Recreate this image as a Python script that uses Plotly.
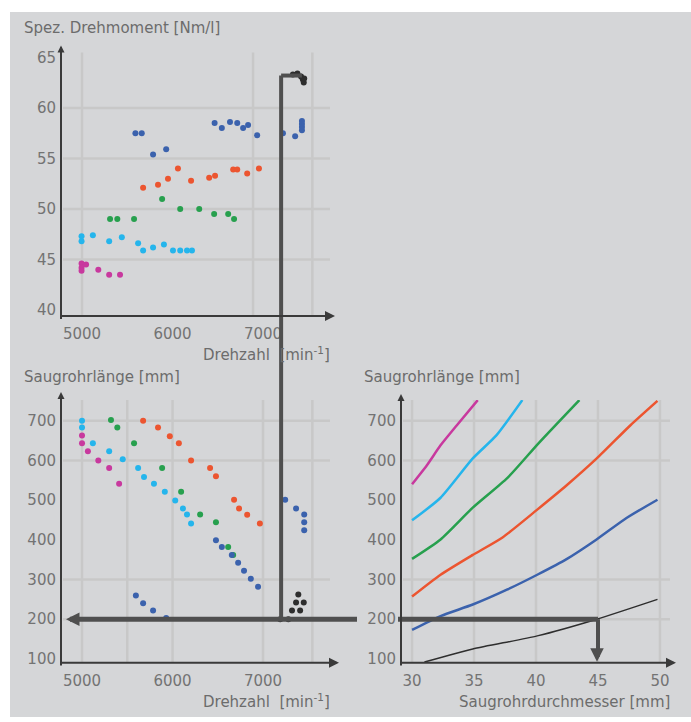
import plotly.graph_objects as go

W, H = 691, 722

# ---------------- data: top plot (spec. torque vs rpm) ----------------
blue_top_x = [5590, 5660, 5785, 5930, 6465, 6545, 6635, 6715, 6780, 6835, 6935, 7220, 7355, 7430, 7430, 7430, 7430]
blue_top_y = [57.5, 57.5, 55.4, 55.9, 58.5, 58.0, 58.6, 58.5, 58.0, 58.3, 57.3, 57.5, 57.2, 57.8, 58.1, 58.4, 58.7]
red_top_x = [5675, 5840, 5950, 6060, 6205, 6405, 6470, 6670, 6715, 6825, 6955]
red_top_y = [52.1, 52.4, 53.0, 54.0, 52.8, 53.1, 53.3, 53.9, 53.9, 53.5, 54.0]
green_top_x = [5310, 5390, 5575, 5885, 6085, 6295, 6460, 6615, 6680]
green_top_y = [49.0, 49.0, 49.0, 51.0, 50.0, 50.0, 49.5, 49.5, 49.0]
cyan_top_x = [4995, 4995, 5120, 5300, 5440, 5620, 5675, 5785, 5905, 6005, 6085, 6160, 6215]
cyan_top_y = [47.3, 46.8, 47.4, 46.8, 47.2, 46.6, 45.9, 46.2, 46.5, 45.9, 45.9, 45.9, 45.9]
magenta_top_x = [4995, 4995, 4995, 5045, 5180, 5300, 5420]
magenta_top_y = [44.6, 44.2, 43.9, 44.5, 44.0, 43.5, 43.5]
black_top_x = [7330, 7380, 7420, 7440, 7450, 7455]
black_top_y = [63.3, 63.4, 63.1, 62.8, 62.5, 62.9]

# ---------------- data: bottom-left (runner length vs rpm) ----------------
cyan_bot_x = [5000, 5000, 5120, 5300, 5450, 5620, 5685, 5795, 5915, 6030, 6115, 6160, 6205]
cyan_bot_y = [700, 683, 643, 623, 603, 581, 558, 541, 521, 499, 479, 464, 441]
magenta_bot_x = [5000, 5000, 5065, 5180, 5300, 5410]
magenta_bot_y = [663, 643, 623, 600, 581, 541]
green_bot_x = [5320, 5390, 5575, 5885, 6095, 6305, 6480, 6615, 6670]
green_bot_y = [702, 683, 643, 581, 521, 464, 444, 382, 362]
red_bot_x = [5675, 5840, 5970, 6070, 6205, 6415, 6480, 6680, 6735, 6825, 6965]
red_bot_y = [700, 683, 661, 643, 600, 581, 560, 501, 479, 463, 441]
blue_bot_x = [5595, 5675, 5785, 5930, 6480, 6545, 6655, 6725, 6790, 6865, 6945, 7245, 7365, 7455, 7455, 7455]
blue_bot_y = [260, 240, 222, 203, 399, 382, 362, 342, 322, 302, 282, 501, 479, 464, 444, 424]
black_bot_x = [7190, 7280, 7320, 7410, 7365, 7450, 7390]
black_bot_y = [200, 200, 222, 222, 242, 242, 262]

# ---------------- data: bottom-right (runner length vs diameter) ----------------
mag_line_x = [30.0, 31.2, 32.3, 33.6, 35.3]
mag_line_y = [540, 588, 638, 688, 752]
cyan_line_x = [30.0, 32.3, 34.9, 36.8, 38.9]
cyan_line_y = [449, 506, 605, 663, 752]
green_line_x = [30.0, 32.3, 34.9, 37.7, 40.2, 43.5]
green_line_y = [352, 401, 481, 556, 643, 752]
red_line_x = [30.0, 32.3, 34.9, 37.3, 40.1, 42.5, 44.9, 47.6, 49.8]
red_line_y = [257, 312, 362, 406, 476, 538, 605, 688, 750]
blue_line_x = [30.0, 32.3, 34.9, 37.7, 40.1, 42.5, 44.8, 47.3, 49.8]
blue_line_y = [173, 208, 237, 275, 312, 352, 399, 455, 501]
black_line_x = [31.0, 34.9, 40.1, 44.9, 49.8]
black_line_y = [92, 125, 158, 200, 250]

# reading example (nomogram guide)
guide_rpm = 7200
guide_torque = 63.2
guide_torque_end_rpm = 7430
guide_len = 200
guide_diam = 45

# tick labels
torque_ticks = [40, 45, 50, 55, 60, 65]
rpm_ticks = [5000, 6000, 7000]
len_ticks = [100, 200, 300, 400, 500, 600, 700]
diam_ticks = [30, 35, 40, 45, 50]

# grid positions
top_vgrid = [5000, 6890, 7545]
top_hgrid = [45, 50, 55, 60]
bl_vgrid = [5000, 5500, 6000, 7000, 7545]
len_hgrid = [200, 300, 600, 700]
br_vgrid = [30, 35, 40, 45, 50]

C_BLUE = "#3b62ad"
C_RED = "#ec5530"
C_GREEN = "#27a04e"
C_CYAN = "#25b5ec"
C_MAG = "#c8399e"
C_BLACK = "#2e2e2e"
GRID = "#c8c8c8"
GUIDE = "#4f4f4f"
AXC = "#3a3a3a"
TXT = "#737373"
BG = "#d5d6d8"
FONT = "DejaVu Sans"

# layout geometry (paper fractions)
def px(xp):
    return xp / W

def py(yp):
    return 1 - yp / H

dom_x_left = [px(63), px(330)]
dom_x_right = [px(403), px(670)]
dom_y_top = [py(316), py(49)]
dom_y_bot = [py(667), py(401)]
rng_rpm = [4790, 7740]
rng_torque = [39.41, 65.49]
rng_len = [90.5, 752.2]
rng_diam = [29.27, 50.81]


def to_paper(v, dom, rng):
    return dom[0] + (v - rng[0]) / (rng[1] - rng[0]) * (dom[1] - dom[0])


fig = go.Figure()

def pts(x, y, color, xa, ya):
    fig.add_trace(go.Scatter(x=x, y=y, mode="markers", xaxis=xa, yaxis=ya,
                             marker=dict(size=6, color=color, line=dict(width=0)),
                             showlegend=False, hoverinfo="skip"))

pts(blue_top_x, blue_top_y, C_BLUE, "x", "y")
pts(red_top_x, red_top_y, C_RED, "x", "y")
pts(green_top_x, green_top_y, C_GREEN, "x", "y")
pts(cyan_top_x, cyan_top_y, C_CYAN, "x", "y")
pts(magenta_top_x, magenta_top_y, C_MAG, "x", "y")
pts(black_top_x, black_top_y, C_BLACK, "x", "y")

pts(cyan_bot_x, cyan_bot_y, C_CYAN, "x2", "y2")
pts(magenta_bot_x, magenta_bot_y, C_MAG, "x2", "y2")
pts(green_bot_x, green_bot_y, C_GREEN, "x2", "y2")
pts(red_bot_x, red_bot_y, C_RED, "x2", "y2")
pts(blue_bot_x, blue_bot_y, C_BLUE, "x2", "y2")
pts(black_bot_x, black_bot_y, C_BLACK, "x2", "y2")

def line(x, y, color, width=2.5):
    fig.add_trace(go.Scatter(x=x, y=y, mode="lines", xaxis="x3", yaxis="y3",
                             line=dict(color=color, width=width, shape="spline", smoothing=0.6),
                             showlegend=False, hoverinfo="skip"))

line(mag_line_x, mag_line_y, C_MAG)
line(cyan_line_x, cyan_line_y, C_CYAN)
line(green_line_x, green_line_y, C_GREEN)
line(red_line_x, red_line_y, C_RED)
line(blue_line_x, blue_line_y, C_BLUE)
line(black_line_x, black_line_y, C_BLACK, 1.5)

tickfont = dict(family=FONT, size=15, color=TXT)
common = dict(showgrid=False, zeroline=False, showline=False, ticks="",
              tickfont=tickfont, fixedrange=True)
xcommon = dict(ticklabelstandoff=7, **common)
ycommon = dict(ticklabelstandoff=6, **common)

fig.update_layout(
    width=W, height=H, margin=dict(l=0, r=0, t=0, b=0),
    paper_bgcolor="white", plot_bgcolor="white", showlegend=False,
    xaxis=dict(domain=dom_x_left, range=rng_rpm, anchor="y", tickvals=rpm_ticks, **xcommon),
    yaxis=dict(domain=dom_y_top, range=rng_torque, anchor="x", tickvals=torque_ticks, **ycommon),
    xaxis2=dict(domain=dom_x_left, range=rng_rpm, anchor="y2", tickvals=rpm_ticks, **xcommon),
    yaxis2=dict(domain=dom_y_bot, range=rng_len, anchor="x2", tickvals=len_ticks, **ycommon),
    xaxis3=dict(domain=dom_x_right, range=rng_diam, anchor="y3", tickvals=diam_ticks, **xcommon),
    yaxis3=dict(domain=dom_y_bot, range=rng_len, anchor="x3", tickvals=len_ticks, **ycommon),
)

shapes = []
# grey background panel
shapes.append(dict(type="rect", xref="paper", yref="paper", x0=px(10), x1=1.0, y0=0.0, y1=py(8),
                   fillcolor=BG, line=dict(width=0), layer="below"))

def vgrid(vals, xa, ya):
    for v in vals:
        shapes.append(dict(type="line", xref=xa, yref=ya + " domain", x0=v, x1=v, y0=0, y1=1,
                           line=dict(color=GRID, width=2.5), layer="below"))

def hgrid(vals, xa, ya):
    for v in vals:
        shapes.append(dict(type="line", xref=xa + " domain", yref=ya, x0=0, x1=1, y0=v, y1=v,
                           line=dict(color=GRID, width=2.5), layer="below"))

vgrid(top_vgrid, "x", "y")
hgrid(top_hgrid, "x", "y")
vgrid(bl_vgrid, "x2", "y2")
hgrid(len_hgrid, "x2", "y2")
vgrid(br_vgrid, "x3", "y3")
hgrid(len_hgrid, "x3", "y3")

# nomogram guide lines (paper coordinates derived from the axis scales)
gx_rpm = to_paper(guide_rpm, dom_x_left, rng_rpm)
gx_rpm_end = to_paper(guide_torque_end_rpm, dom_x_left, rng_rpm)
gy_torque = to_paper(guide_torque, dom_y_top, rng_torque)
gy_len = to_paper(guide_len, dom_y_bot, rng_len)
gx_diam = to_paper(guide_diam, dom_x_right, rng_diam)
g_line = dict(color=GUIDE, width=4)
shapes.append(dict(type="line", xref="paper", yref="paper", x0=gx_rpm, x1=gx_rpm,
                   y0=gy_torque, y1=gy_len, line=g_line))
shapes.append(dict(type="line", xref="paper", yref="paper", x0=gx_rpm, x1=gx_rpm_end,
                   y0=gy_torque, y1=gy_torque, line=g_line))
shapes.append(dict(type="line", xref="paper", yref="paper", x0=px(70), x1=px(357),
                   y0=gy_len, y1=gy_len, line=dict(color=GUIDE, width=5)))
shapes.append(dict(type="line", xref="paper", yref="paper", x0=px(398), x1=gx_diam,
                   y0=gy_len, y1=gy_len, line=dict(color=GUIDE, width=5)))
shapes.append(dict(type="line", xref="paper", yref="paper", x0=gx_diam, x1=gx_diam,
                   y0=gy_len, y1=dom_y_bot[0] + 6 / H, line=dict(color=GUIDE, width=4)))
fig.update_layout(shapes=shapes)

ann = []
def arrow(tip_x, tip_y, tail_x, tail_y, color=AXC, width=2, head=2, size=1.0):
    ann.append(dict(xref="paper", yref="paper", x=px(tip_x), y=py(tip_y), text="",
                    showarrow=True, ax=tail_x - tip_x, ay=tail_y - tip_y, axref="pixel", ayref="pixel",
                    arrowhead=head, arrowsize=size, arrowwidth=width, arrowcolor=color, standoff=0))

# axes with arrowheads
arrow(61, 42, 61, 317, size=0.7)
arrow(335, 316, 60, 316)
arrow(61, 393, 61, 668, size=0.7)
arrow(339, 667, 60, 667)
arrow(401, 395, 401, 668, size=0.7)
arrow(676, 667, 400, 667)
# guide arrowheads
arrow(66, 623, 80, 623, color=GUIDE, width=3, size=0.9)
arrow(597, 666, 597, 652, color=GUIDE, width=3, size=0.9)

tfont = dict(family=FONT, size=15, color="#6c6c6c")
def label(text, x, y, xanchor):
    ann.append(dict(xref="paper", yref="paper", x=px(x), y=py(y), text=text, showarrow=False,
                    xanchor=xanchor, yanchor="middle", font=tfont))

label("Spez. Drehmoment [Nm/l]", 22, 24, "left")
label("Drehzahl  [min<sup>-1</sup>]", 332, 354, "right")
label("Saugrohrlänge [mm]", 22, 378, "left")
label("Drehzahl  [min<sup>-1</sup>]", 332, 706, "right")
label("Saugrohrlänge [mm]", 362, 378, "left")
label("Saugrohrdurchmesser [mm]", 672, 707, "right")
fig.update_layout(annotations=ann)

fig.write_html("out.html", config={"displayModeBar": False},
               post_script="document.body.style.margin='0';document.body.style.overflow='hidden';")
